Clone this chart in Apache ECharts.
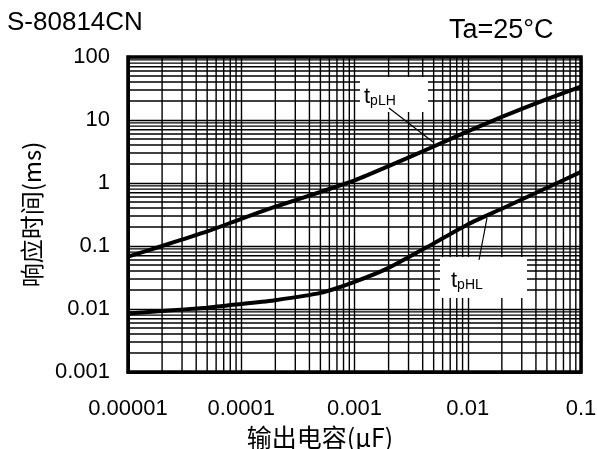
<!DOCTYPE html>
<html><head><meta charset="utf-8">
<script src="https://cdn.jsdelivr.net/npm/echarts@6/dist/echarts.min.js"></script>
<style>html,body{margin:0;padding:0;background:#fff}#c{width:597px;height:449px}</style>
</head><body><div id="c"></div>
<script>
const capX = [1e-5, 2e-5, 5e-5, 1e-4, 2e-4, 5e-4, 1e-3, 2e-3, 5e-3, 1e-2, 2e-2, 5e-2, 1e-1];
const tpLH = [0.068, 0.1, 0.17, 0.27, 0.42, 0.72, 1.1, 1.85, 3.8, 6.6, 11.2, 21.5, 34];
const tpHL = [0.0085, 0.0093, 0.0105, 0.012, 0.0138, 0.018, 0.027, 0.045, 0.11, 0.22, 0.39, 0.84, 1.5];
const xTickLabels = ['0.00001','0.0001','0.001','0.01','0.1'];
const yTickLabels = ['0.001','0.01','0.1','1','10','100'];
const xDecades = [-5, -4, -3, -2];
const yDecades = [-3, -2, -1, 0, 1];
const X_MIN = 1e-5, X_MAX = 0.1, Y_MIN = 0.001, Y_MAX = 100;

const FONT = '"Liberation Sans", Arial, sans-serif';
const CJK = '"Noto Sans CJK SC", sans-serif';

function minorValues(decs) {
  const out = [];
  decs.forEach(d => { for (let m = 2; m <= 9; m++) out.push(m * Math.pow(10, d)); });
  return out;
}
const gridStyle = {color: '#000', width: 1.4, type: 'solid'};

function labelFor(arr, decMin) {
  return function (v) {
    const i = Math.round(Math.log10(v)) - decMin;
    return arr[i] !== undefined ? arr[i] : '';
  };
}

const gridSeries = [];
minorValues(xDecades).forEach(v => gridSeries.push({
  type: 'line', silent: true, symbol: 'none', animation: false, z: 1,
  lineStyle: gridStyle, data: [[v, Y_MIN], [v, Y_MAX]]
}));
minorValues(yDecades).forEach(v => gridSeries.push({
  type: 'line', silent: true, symbol: 'none', animation: false, z: 1,
  lineStyle: gridStyle, data: [[X_MIN, v], [X_MAX, v]]
}));

const subRich = {
  a: {fontFamily: FONT, fontSize: 22, color: '#000', lineHeight: 28, verticalAlign: 'bottom'},
  b: {fontFamily: FONT, fontSize: 14, color: '#000', lineHeight: 28, verticalAlign: 'bottom', padding: [9, 0, 0, 0]}
};

const chart = echarts.init(document.getElementById('c'), null, {renderer: 'canvas'});
chart.setOption({
  animation: false,
  backgroundColor: '#fff',
  grid: {left: 128, right: 16, top: 57, bottom: 77, containLabel: false, outerBoundsMode: 'none'},
  xAxis: {
    type: 'log', logBase: 10, min: X_MIN, max: X_MAX,
    name: '输出电容(μF)', nameLocation: 'middle', nameGap: 52,
    nameTextStyle: {fontFamily: CJK, fontSize: 25, color: '#000', padding: [0, 69, 0, 0]},
    axisLine: {show: true, lineStyle: {color: '#000', width: 3}},
    axisTick: {show: false},
    axisLabel: {formatter: labelFor(xTickLabels, -5), fontFamily: FONT, fontSize: 22, color: '#000', margin: 26},
    splitLine: {show: true, lineStyle: gridStyle}
  },
  yAxis: {
    type: 'log', logBase: 10, min: Y_MIN, max: Y_MAX,
    name: '响应时间(ms)', nameLocation: 'middle', nameGap: 80, nameRotate: 90,
    nameTextStyle: {fontFamily: CJK, fontSize: 24, color: '#000'},
    axisLine: {show: true, lineStyle: {color: '#000', width: 3}},
    axisTick: {show: false},
    axisLabel: {formatter: labelFor(yTickLabels, -3), fontFamily: FONT, fontSize: 22, color: '#000', margin: 18},
    splitLine: {show: true, lineStyle: gridStyle}
  },
  series: gridSeries.concat([
    {
      type: 'line', name: 'tpLH', smooth: 0.2, showSymbol: false, symbol: 'none',
      lineStyle: {color: '#000', width: 4},
      data: capX.map((x, i) => [x, tpLH[i]]), z: 5
    },
    {
      type: 'line', name: 'tpHL', smooth: 0.2, showSymbol: false, symbol: 'none',
      lineStyle: {color: '#000', width: 4},
      data: capX.map((x, i) => [x, tpHL[i]]), z: 5
    }
  ]),
  graphic: [
    {type: 'text', left: 7, top: 10, style: {text: 'S-80814CN', font: '26px ' + FONT, fill: '#000'}},
    {type: 'text', left: 449, top: 17, style: {text: 'Ta=25°C', font: '27px ' + FONT, fill: '#000'}},
    {type: 'rect', shape: {x: 128, y: 57, width: 453, height: 315}, style: {fill: 'none', stroke: '#000', lineWidth: 3.5}, z: 20},
    {type: 'rect', shape: {x: 360, y: 77, width: 68, height: 35}, style: {fill: '#fff'}, z: 10},
    {type: 'line', shape: {x1: 389, y1: 108, x2: 433, y2: 142}, style: {stroke: '#000', lineWidth: 1.2}, z: 11},
    {type: 'text', x: 364, y: 80, z: 12, style: {text: '{a|t}{b|pLH}', rich: subRich}},
    {type: 'rect', shape: {x: 440, y: 257, width: 87, height: 41}, style: {fill: '#fff'}, z: 10},
    {type: 'line', shape: {x1: 487, y1: 218, x2: 479, y2: 260}, style: {stroke: '#000', lineWidth: 1.2}, z: 11},
    {type: 'text', x: 451, y: 264, z: 12, style: {text: '{a|t}{b|pHL}', rich: subRich}}
  ]
});
</script></body></html>
